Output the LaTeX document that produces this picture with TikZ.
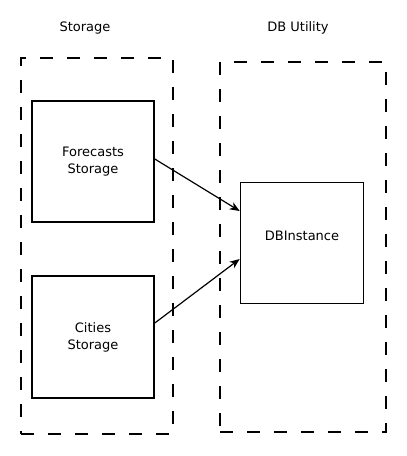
\documentclass[tikz,border=0pt]{standalone}
\usepackage{fontspec}
\setmainfont{DejaVu Sans}
\usetikzlibrary{arrows.meta}

\begin{document}
\begin{tikzpicture}
  [x=1pt,y=-1pt,
   every node/.style={font=\fontsize{13}{17}\selectfont, align=center},
   box/.style={draw, line width=1.6pt, minimum width=122pt, minimum height=121pt, inner sep=0pt},
   group/.style={draw, line width=1.5pt, dash pattern=on 13pt off 14pt, inner sep=0pt}]
  \useasboundingbox (0,0) rectangle (407,456);

  \node[anchor=base] (tstor) at (85,31) {Storage};
  \node[anchor=base] (tdbu) at (298,31) {DB Utility};

  \node[group, minimum width=152pt, minimum height=376pt] (stor) at (97,246) {};
  \node[group, minimum width=166pt, minimum height=370pt] (dbu) at (303,247) {};

  \node[box] (fcst) at (93,161.5) {Forecasts\\Storage};
  \node[box, minimum height=122pt] (city) at (93,337) {Cities\\Storage};
  \node[box, minimum width=123pt, text depth=15pt] (dbi) at (302,243) {DBInstance};

  \draw[line width=1.2pt, -{Stealth[length=10pt,width=8pt,inset=3pt]}]
    ([yshift=2.5pt]fcst.east) -- ([yshift=32pt]dbi.west);
  \draw[line width=1.2pt, -{Stealth[length=10pt,width=8pt,inset=3pt]}]
    ([yshift=14pt]city.east) -- ([yshift=-16pt]dbi.west);
\end{tikzpicture}
\end{document}
